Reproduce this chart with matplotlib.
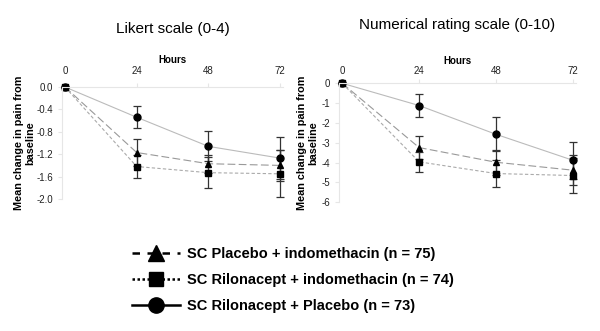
import matplotlib
matplotlib.use('Agg')
import matplotlib.pyplot as plt
from matplotlib.lines import Line2D
import numpy as np

plt.rcParams['font.family'] = ['Liberation Sans', 'DejaVu Sans']

hours = [0, 24, 48, 72]

# Likert scale (0-4)
lik_circle = [0, -0.54, -1.06, -1.27]
lik_circle_err = [0, 0.20, 0.27, 0.37]
lik_tri = [0, -1.17, -1.37, -1.40]
lik_tri_err = [0, 0.24, 0.16, 0.27]
lik_sq = [0, -1.42, -1.53, -1.55]
lik_sq_err = [0, 0.21, 0.28, 0.42]
lik_yticks = [0.0, -0.4, -0.8, -1.2, -1.6, -2.0]

# Numerical rating scale (0-10)
nrs_circle = [0, -1.12, -2.57, -3.88]
nrs_circle_err = [0, 0.56, 0.85, 0.93]
nrs_tri = [0, -3.24, -3.98, -4.38]
nrs_tri_err = [0, 0.60, 0.62, 0.75]
nrs_sq = [0, -3.96, -4.55, -4.65]
nrs_sq_err = [0, 0.50, 0.70, 0.90]
nrs_yticks = [0, -1, -2, -3, -4, -5, -6]

labels = ['SC Placebo + indomethacin (n = 75)',
          'SC Rilonacept + indomethacin (n = 74)',
          'SC Rilonacept + Placebo (n = 73)']

fig = plt.figure(figsize=(6, 3.31), dpi=100)
ax1 = fig.add_axes([62/600, 1-199/331, 221/600, 112/331])
ax2 = fig.add_axes([339/600, 1-202.3/331, 237/600, 119/331])

def draw(ax, circ, ce, tri, te, sq, se, yticks, fmt, title, ylo, tpad, xpad, ypad):
    # series: triangle, square, circle
    ax.errorbar(hours, tri, yerr=te, color='#999999', ls=(0, (7, 3)), lw=0.8,
                marker='^', ms=5, mfc='black', mec='black',
                ecolor='#333333', elinewidth=0.9, capsize=3, capthick=0.9, clip_on=False)
    ax.errorbar(hours, sq, yerr=se, color='#aaaaaa', ls=(0, (3, 2)), lw=0.8,
                marker='s', ms=5, mfc='black', mec='black',
                ecolor='#333333', elinewidth=0.9, capsize=3, capthick=0.9, clip_on=False)
    ax.errorbar(hours, circ, yerr=ce, color='#bbbbbb', ls='-', lw=0.8,
                marker='o', ms=5, mfc='black', mec='black',
                ecolor='#333333', elinewidth=0.9, capsize=3, capthick=0.9, clip_on=False)
    ax.set_xlim(-1, 73)
    ax.set_ylim(ylo, 0)
    ax.xaxis.tick_top()
    ax.xaxis.set_label_position('top')
    ax.set_xticks(hours)
    ax.set_yticks(yticks)
    ax.set_yticklabels([fmt.format(v) for v in yticks])
    for s in ['right', 'bottom']:
        ax.spines[s].set_visible(False)
    for s in ['left', 'top']:
        ax.spines[s].set_color('#e6e6e6')
        ax.spines[s].set_linewidth(0.8)
    ax.tick_params(axis='both', labelsize=7, colors='#e6e6e6', labelcolor='#222222',
                   length=3, width=0.8)
    ax.tick_params(axis='x', pad=xpad)
    ax.set_xlabel('Hours', fontsize=7, fontweight='bold', labelpad=2)
    ax.set_ylabel('Mean change in pain from\nbaseline', fontsize=7.8, fontweight='bold',
                  labelpad=ypad, linespacing=1.2)
    ax.set_title(title, fontsize=11, pad=tpad)

draw(ax1, lik_circle, lik_circle_err, lik_tri, lik_tri_err, lik_sq, lik_sq_err,
     lik_yticks, '{:.1f}', 'Likert scale (0-4)', -2.0, 39, 5, 0.5)
draw(ax2, nrs_circle, nrs_circle_err, nrs_tri, nrs_tri_err, nrs_sq, nrs_sq_err,
     nrs_yticks, '{:.0f}', 'Numerical rating scale (0-10)', -6, 39, 2, 2)

handles = [
    Line2D([], [], color='black', ls=(0, (3, 3)), lw=1.8, marker='^', ms=11),
    Line2D([], [], color='black', ls=(0, (1, 1)), lw=1.8, marker='s', ms=10),
    Line2D([], [], color='black', ls='-', lw=1.8, marker='o', ms=11),
]
leg = fig.legend(handles, labels, loc='center left', bbox_to_anchor=(0.198, 1-280/331),
                 frameon=False, handlelength=3.3, handletextpad=0.45, labelspacing=0.8,
                 prop={'weight': 'bold', 'size': 10.5})

fig.savefig('out.png', dpi=100)
